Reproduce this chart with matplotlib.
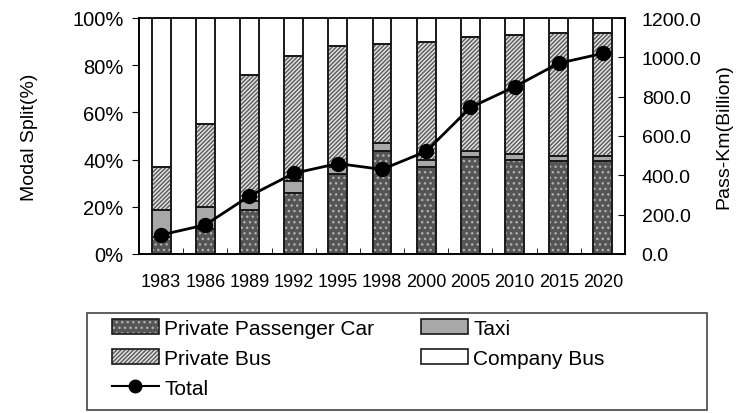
import numpy as np
import matplotlib
matplotlib.use("Agg")
import matplotlib.pyplot as plt
from matplotlib.patches import Patch, Rectangle
from matplotlib.lines import Line2D
from matplotlib.legend_handler import HandlerTuple

plt.rcParams["font.family"] = ["Liberation Sans", "DejaVu Sans"]
plt.rcParams["hatch.linewidth"] = 1.0

years = ["1983", "1986", "1989", "1992", "1995", "1998", "2000", "2005", "2010", "2015", "2020"]
# modal split, % of passenger-km
car = [7.0, 10.5, 18.5, 26.0, 34.0, 43.5, 37.0, 41.0, 40.0, 39.5, 39.5]
taxi = [11.5, 9.5, 4.0, 5.0, 3.0, 3.5, 3.0, 2.5, 2.5, 2.0, 2.0]
private_bus = [18.5, 35.0, 53.5, 53.0, 51.0, 42.0, 50.0, 48.5, 50.5, 52.0, 52.0]
company_bus = [100 - a - b - c for a, b, c in zip(car, taxi, private_bus)]
# total passenger-km, billion
total = [97, 148, 295, 410, 460, 430, 522, 745, 850, 970, 1020]

x = np.arange(len(years))
w = 0.43

CAR = dict(facecolor="#555555", edgecolor="#b0b0b0", hatch="...")
TAXI = dict(facecolor="#a8a8a8")
PBUS = dict(facecolor="#e0e0e0", edgecolor="#5a5a5a", hatch="////////")
EDGE = "#1a1a1a"

fig = plt.figure(figsize=(7.39, 4.14), dpi=100)
ax = fig.add_axes([139/739, 1-255/414, 486/739, 236/414])

b0 = np.zeros(len(years))
b1 = np.array(car)
b2 = b1 + np.array(taxi)
b3 = b2 + np.array(private_bus)

# fills with hatch (hatch colour = edgecolor), then black outlines on top
ax.bar(x, car, w, bottom=b0, lw=0, **CAR)
ax.bar(x, taxi, w, bottom=b1, lw=0, **TAXI)
ax.bar(x, private_bus, w, bottom=b2, lw=0, **PBUS)
ax.bar(x, company_bus, w, bottom=b3, color="white", lw=0)
for vals, bot in [(car, b0), (taxi, b1), (private_bus, b2), (company_bus, b3)]:
    ax.bar(x, vals, w, bottom=bot, fill=False, edgecolor=EDGE, lw=1.4)

ax.set_xlim(-0.5, len(years) - 0.5)
ax.set_ylim(0, 100)
ax.set_yticks(range(0, 101, 20))
ax.set_yticklabels([f"{v}%" for v in range(0, 101, 20)], fontsize=14.5)
ax.set_xticks(x)
ax.set_xticklabels(years, fontsize=13)
ax.tick_params(axis="x", length=0, pad=14)
ax.set_xticks(x[:-1] + 0.5, minor=True)
ax.tick_params(axis="x", which="minor", direction="in", length=4)
ax.tick_params(axis="y", direction="out", length=5, pad=6)
ax.set_ylabel("Modal Split(%)", fontsize=14, labelpad=25)
for s in ax.spines.values():
    s.set_linewidth(1.2)
ax.spines["top"].set_color("#777777")

ax2 = ax.twinx()
ax2.plot(x, total, "-o", color="black", lw=2, ms=10)
ax2.set_ylim(0, 1200)
ax2.set_yticks(range(0, 1201, 200))
ax2.set_yticklabels([f"{v:.1f}" for v in range(0, 1201, 200)], fontsize=14)
ax2.tick_params(axis="y", direction="in", length=5, pad=12)
ax2.set_ylabel("Pass-Km(Billion)", fontsize=14, labelpad=10)
for s in ax2.spines.values():
    s.set_linewidth(1.2)

# legend: frame drawn separately, two columns placed independently
fig.patches.append(Rectangle((87/739, 1-411/414), 620/739, 97/414,
                             transform=fig.transFigure, fill=False,
                             edgecolor="#444444", lw=1.2))
legkw = dict(loc="upper left", fontsize=15, frameon=False,
             handlelength=2.25, handleheight=0.72, handletextpad=0.25,
             labelspacing=0.52, borderpad=0, borderaxespad=0,
             handler_map={tuple: HandlerTuple(ndivide=1)})
outline = lambda: Patch(fill=False, edgecolor=EDGE, lw=1.2)
h1 = [(Patch(lw=0, **CAR), outline()),
      (Patch(lw=0, **PBUS), outline()),
      Line2D([], [], color="black", lw=1.5, marker="o", ms=9)]
h2 = [(Patch(lw=0, **TAXI), outline()),
      (Patch(lw=0, facecolor="white"), outline())]
fig.legend(h1, ["Private Passenger Car", "Private Bus", "Total"],
           bbox_to_anchor=(112/739, 1-320/414), **legkw)
fig.legend(h2, ["Taxi", "Company Bus"],
           bbox_to_anchor=(421/739, 1-320/414), **legkw)

fig.savefig("out.png", dpi=100)
